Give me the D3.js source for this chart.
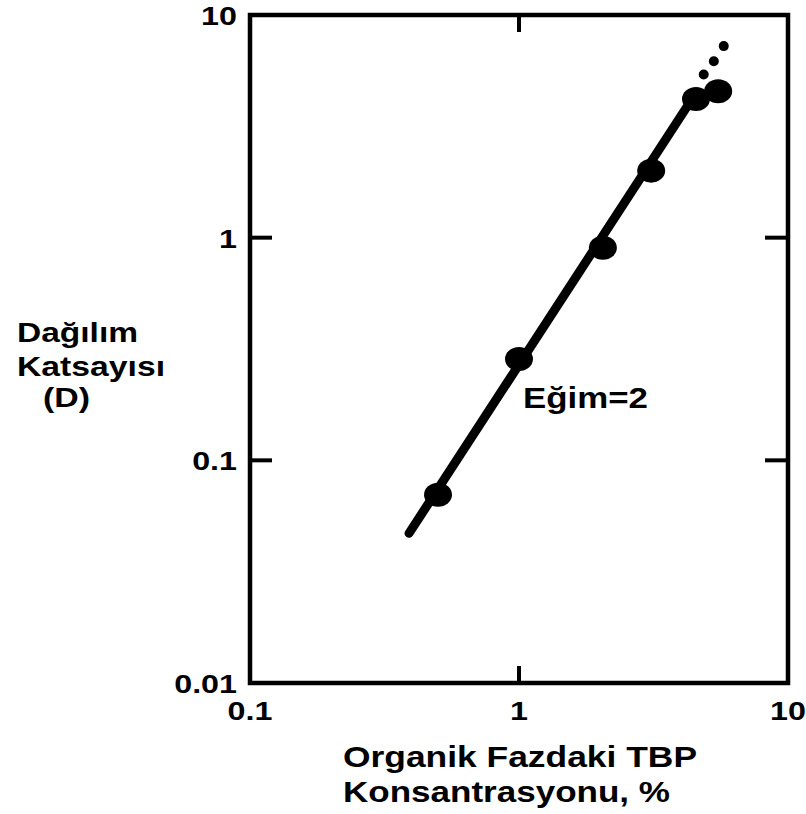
<!DOCTYPE html>
<html><head><meta charset="utf-8">
<script src="https://cdn.jsdelivr.net/npm/d3@7"></script>
<style>body{margin:0;background:#fff}svg{display:block}text{font-family:"Liberation Sans",Arial,sans-serif;font-weight:bold;fill:#000}</style>
</head><body>
<script>
const xTicks=[0.1,1,10];
const yTicks=[0.01,0.1,1,10];
const tbp=[0.5,1.0,2.05,3.1,4.55,5.5];
const dist=[0.07,0.285,0.9,2.0,4.2,4.55];
const fitX=[0.39,4.4];
const fitY=[0.047,4.2];
const extX=[4.86,5.3,5.77];
const extY=[5.4,6.2,7.25];

const W=806,H=814;
const svg=d3.select("body").append("svg").attr("width",W).attr("height",H);
const x=d3.scaleLog().domain([0.1,10]).range([250,788]);
const y=d3.scaleLog().domain([0.01,10]).range([683,15]);
const STRETCH=1.24;
function stretch(sel,k){sel.each(function(){const n=this.getComputedTextLength();d3.select(this).attr("textLength",n*k).attr("lengthAdjust","spacingAndGlyphs");});}

const g=svg.append("g");
[1].forEach(v=>{
  g.append("line").attr("x1",x(v)).attr("x2",x(v)).attr("y1",683).attr("y2",666).attr("stroke","#000").attr("stroke-width",4);
  g.append("line").attr("x1",x(v)).attr("x2",x(v)).attr("y1",15).attr("y2",32).attr("stroke","#000").attr("stroke-width",4);
});
[0.1,1].forEach(v=>{
  g.append("line").attr("x1",250).attr("x2",272).attr("y1",y(v)).attr("y2",y(v)).attr("stroke","#000").attr("stroke-width",4);
  g.append("line").attr("x1",788).attr("x2",765).attr("y1",y(v)).attr("y2",y(v)).attr("stroke","#000").attr("stroke-width",4);
});
svg.append("rect").attr("x",250).attr("y",15).attr("width",538).attr("height",668)
  .attr("fill","none").attr("stroke","#000").attr("stroke-width",4.5);

const xl=svg.selectAll(".xl").data(xTicks).enter().append("text")
  .attr("x",d=>x(d)).attr("y",720).attr("text-anchor","middle").attr("font-size",26).text(d=>d3.format("~g")(d));
stretch(xl,STRETCH);
const yl=svg.selectAll(".yl").data(yTicks).enter().append("text")
  .attr("x",237).attr("y",d=>y(d)+10).attr("text-anchor","end").attr("font-size",26).text(d=>d3.format("~g")(d));
stretch(yl,STRETCH);

const line=d3.line().x(d=>x(d[0])).y(d=>y(d[1]));
svg.append("path").datum(d3.zip(fitX,fitY)).attr("d",line).attr("stroke","#000").attr("stroke-width",9).attr("fill","none").attr("stroke-linecap","round");
svg.selectAll(".ext").data(d3.zip(extX,extY)).enter().append("circle")
  .attr("cx",d=>x(d[0])).attr("cy",d=>y(d[1])).attr("r",5).attr("fill","#000");
svg.selectAll(".pt").data(d3.zip(tbp,dist)).enter().append("ellipse")
  .attr("cx",d=>x(d[0])).attr("cy",d=>y(d[1])).attr("rx",14).attr("ry",12).attr("fill","#000");

function t(str,xx,yy,size,len){return svg.append("text").attr("x",xx).attr("y",yy).attr("font-size",size)
  .attr("textLength",len).attr("lengthAdjust","spacingAndGlyphs").text(str);}
t("Eğim=2",523,408,29,125);
t("Dağılım",17,342,28,121);
t("Katsayısı",17,376,28,148);
t("(D)",43,407,28,47);
t("Organik Fazdaki TBP",343,767,30,354);
t("Konsantrasyonu, %",343,802,30,327);
</script>
</body></html>
